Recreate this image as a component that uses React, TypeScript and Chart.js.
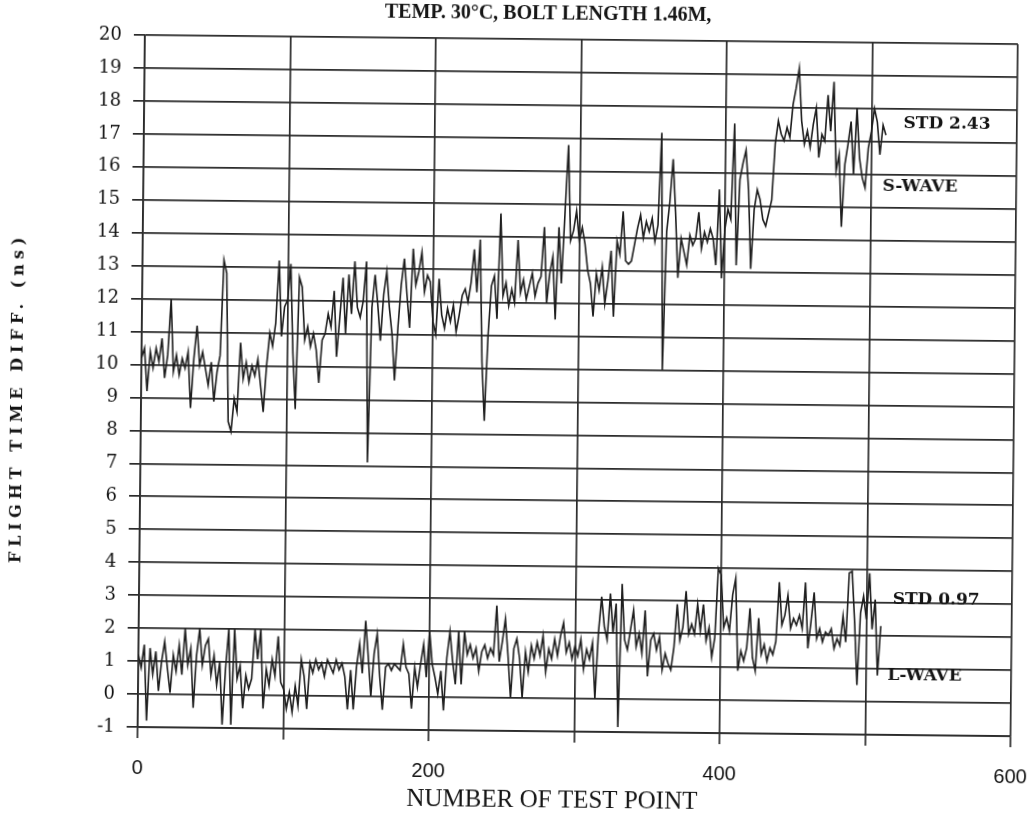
import React, { useEffect, useRef } from 'react';
import { Chart, registerables } from 'chart.js';

Chart.register(...registerables);

const TITLE = 'TEMP. 30°C, BOLT LENGTH 1.46M,';
const X_TITLE = 'NUMBER OF TEST POINT';
const Y_TITLE = 'FLIGHT TIME DIFF. (ns)';
const X_TICKS = [0, 100, 200, 300, 400, 500, 600];
const X_TICK_LABELS = [0, 200, 400, 600];
const SAMPLE_STEP = 2;

const S_WAVE = [
  10.2, 10.5, 9.2, 10.4, 9.9, 10.5, 10.1, 10.8, 9.6, 10.3,
  12.0, 9.8, 10.3, 9.7, 10.2, 9.9, 10.4, 8.7, 10.2, 11.2,
  10.0, 10.4, 9.9, 9.4, 10.1, 8.9, 9.8, 10.3, 13.2, 12.8,
  8.3, 8.0, 9.0, 8.6, 10.7, 9.6, 10.1, 9.5, 10.0, 9.7,
  10.2, 9.4, 8.6, 10.0, 11.0, 10.6, 11.3, 13.2, 10.9, 11.8,
  12.0, 13.1, 10.4, 8.7, 12.7, 12.4, 10.8, 11.2, 10.6, 11.0,
  10.5, 9.5, 10.8, 11.0, 11.6, 11.2, 12.3, 10.3, 11.5, 12.7,
  11.0, 12.8, 11.6, 13.2, 11.8, 11.5, 12.0, 13.2, 7.1, 11.8,
  12.8, 11.9, 10.8, 12.2, 12.9, 11.8, 11.0, 9.6, 11.2, 12.5,
  13.3, 12.2, 11.2, 13.6, 12.5, 12.9, 13.5, 12.3, 12.8, 12.6,
  11.4, 11.0, 12.7, 11.6, 11.2, 11.8, 11.4, 11.9, 11.1, 11.6,
  12.2, 12.4, 12.0, 12.6, 13.6, 12.3, 13.9, 10.2, 8.4, 11.0,
  12.5, 12.8, 11.5, 14.7, 12.2, 12.6, 11.9, 12.4, 12.0, 13.9,
  12.3, 12.7, 12.1, 12.5, 12.9, 12.2, 12.6, 12.8, 14.3, 12.0,
  12.9, 13.4, 11.5, 14.3, 12.6, 14.7, 16.8, 13.9, 14.2, 14.8,
  13.9, 14.3, 13.8, 13.0, 12.6, 11.6, 12.9, 12.4, 13.1, 12.0,
  12.7, 13.6, 11.6, 13.9, 13.5, 14.8, 13.3, 13.2, 13.3, 13.8,
  14.3, 14.7, 14.0, 14.5, 14.2, 14.6, 13.9, 14.4, 17.2, 10.0,
  14.2, 15.1, 16.4, 14.8, 12.8, 14.0, 13.6, 13.2, 14.1, 13.8,
  14.0, 14.8, 13.7, 14.2, 13.9, 14.3, 14.0, 13.2, 15.5, 12.8,
  14.3, 14.9, 14.6, 17.5, 13.2, 15.8, 16.3, 16.7, 15.5, 13.1,
  14.9, 15.5, 15.2, 14.6, 14.4, 14.8, 15.2, 16.9, 17.6, 17.2,
  17.0, 17.4, 17.1, 18.1, 18.6, 19.2, 17.6, 16.9, 17.3, 16.8,
  17.5, 18.0, 16.5, 17.2, 17.0, 18.4, 17.3, 18.8, 16.1, 16.6,
  14.4, 16.3, 16.9, 17.6, 16.0, 18.0, 16.5, 15.9, 15.6, 16.8,
  17.3, 18.0, 17.6, 16.6, 17.5, 17.2,
];

const L_WAVE = [
  1.2, 0.8, 1.5, -0.8, 1.4, 0.6, 1.3, 0.1, 1.0, 1.6,
  0.8, 0.05, 1.2, 0.7, 1.5, 0.6, 2.0, 0.9, 1.4, -0.4,
  1.2, 2.0, 0.9, 1.5, 1.7, 0.6, 1.2, 0.3, 1.0, -0.9,
  0.8, 2.0, -0.9, 2.0, 0.5, 0.9, -0.4, 0.6, 0.2, 0.5,
  2.0, 1.1, 2.0, -0.4, 0.8, 0.3, 1.1, 0.6, 1.8, 0.4,
  0.2, -0.4, 0.1, -0.5, 0.3, -0.3, 1.1, 0.6, -0.4, 1.0,
  0.7, 1.1, 0.8, 1.0, 0.6, 1.1, 0.9, 0.7, 1.1, 0.8,
  1.0, 0.6, -0.4, 0.8, -0.4, 0.9, 1.6, 0.7, 2.3, 1.2,
  0.0, 1.3, 1.9, 0.6, -0.4, 0.9, 1.0, 0.8, 1.0, 0.9,
  0.8, 1.6, 0.9, 0.7, -0.35, 0.9, 0.3, 1.0, 1.6, 0.6,
  2.0, 1.0, 0.6, 0.1, 0.8, -0.4, 1.2, 2.0, 1.1, 0.4,
  2.0, 0.4, 2.0, 1.3, 1.6, 1.2, 1.5, 0.8, 1.4, 1.6,
  1.2, 1.5, 1.3, 2.8, 1.1, 1.7, 2.4, 1.3, 0.0, 1.5,
  1.8, 1.2, 0.0, 1.4, 0.8, 1.6, 1.2, 1.7, 1.3, 1.9,
  0.8, 1.5, 1.2, 1.8, 1.3, 1.9, 2.3, 1.4, 1.7, 1.2,
  1.6, 1.3, 1.8, 0.9, 1.5, 1.2, 1.7, 0.0, 2.0, 3.1,
  2.2, 1.8, 3.2, 2.0, 2.9, -0.85, 3.5, 1.8, 1.5, 2.1,
  2.7, 1.6, 2.0, 1.4, 2.7, 0.7, 1.8, 2.0, 1.5, 1.9,
  0.9, 1.4, 1.1, 0.9, 1.6, 2.9, 1.8, 2.2, 3.3, 2.0,
  2.3, 2.0, 2.9, 2.1, 2.9, 1.8, 2.2, 1.3, 1.9, 4.0,
  3.8, 2.2, 2.5, 2.1, 3.2, 3.7, 0.9, 1.5, 1.2, 1.6,
  2.8, 1.3, 0.9, 2.5, 1.4, 1.7, 1.2, 1.6, 1.4, 1.8,
  3.6, 2.3, 2.6, 3.2, 2.2, 2.5, 2.3, 2.6, 2.2, 3.6,
  1.6, 2.4, 3.3, 1.9, 2.2, 1.8, 2.1, 2.0, 2.2, 1.6,
  1.9, 1.7, 2.6, 1.8, 3.9, 3.95, 2.4, 0.5, 2.7, 3.2,
  2.5, 3.9, 2.2, 3.1, 0.8, 2.3,
];

const ANNOTATIONS = [
  { text: 'STD 2.43', x: 522, y: 17.55 },
  { text: 'S-WAVE', x: 508, y: 15.65 },
  { text: 'STD 0.97', x: 518, y: 3.1 },
  { text: 'L-WAVE', x: 515, y: 0.8 },
];

const INK = '#111111';
const GRID = '#2a2a2a';

const textPlugin = {
  id: 'scanText',
  afterDraw(chart: any) {
    const ctx: CanvasRenderingContext2D = chart.ctx;
    const xs = chart.scales.x;
    const ys = chart.scales.y;
    ctx.save();
    ctx.fillStyle = '#151515';
    ctx.textBaseline = 'middle';

    ctx.textAlign = 'center';
    ctx.font = 'bold 20px "Liberation Serif"';
    ctx.fillText(TITLE, 544, 14);

    ctx.font = '25px "Liberation Serif"';
    ctx.fillText(X_TITLE, 556, 800);

    ctx.save();
    ctx.translate(18, 403);
    ctx.rotate(-Math.PI / 2);
    ctx.font = 'bold 16px "DejaVu Serif"';
    (ctx as any).letterSpacing = '5px';
    ctx.fillText(Y_TITLE, 0, 0);
    ctx.restore();

    ctx.textAlign = 'left';
    ctx.font = 'bold 17px "DejaVu Serif"';
    for (const a of ANNOTATIONS) {
      ctx.fillText(a.text, xs.getPixelForValue(a.x), ys.getPixelForValue(a.y));
    }
    ctx.restore();
  },
};

export default function App() {
  const ref = useRef<HTMLCanvasElement>(null);

  useEffect(() => {
    const canvas = ref.current;
    if (!canvas) return;
    const toPoints = (vals: number[]) => vals.map((v, i) => ({ x: i * SAMPLE_STEP, y: v }));
    const lineStyle = {
      borderColor: '#1e1e1e',
      borderWidth: 1.6,
      pointRadius: 0,
      tension: 0,
      fill: false,
    };
    const chart = new Chart(canvas, {
      type: 'line',
      data: {
        datasets: [
          { label: 'S-WAVE', data: toPoints(S_WAVE), ...lineStyle },
          { label: 'L-WAVE', data: toPoints(L_WAVE), ...lineStyle },
        ],
      },
      options: {
        responsive: false,
        animation: false,
        devicePixelRatio: 1,
        layout: { padding: { left: 0, right: 21, top: 39, bottom: 0 } },
        plugins: {
          legend: { display: false },
          title: { display: false },
          tooltip: { enabled: false },
        },
        scales: {
          x: {
            type: 'linear',
            min: 0,
            max: 600,
            afterFit: (s: any) => {
              s.height = 85;
              s.paddingLeft = 0;
              s.paddingRight = 0;
            },
            afterBuildTicks: (s: any) => { s.ticks = X_TICKS.map((v) => ({ value: v })); },
            ticks: {
              autoSkip: false,
              maxRotation: 0,
              padding: 18,
              color: INK,
              font: { family: 'Liberation Sans', size: 20 },
              callback: (v: any) => (X_TICK_LABELS.includes(Number(v)) ? String(v) : ''),
            },
            grid: { color: GRID, lineWidth: 1.7, tickLength: 11 },
            border: { display: true, color: GRID, width: 1.7 },
          },
          y: {
            type: 'linear',
            min: -1,
            max: 20,
            afterFit: (s: any) => {
              s.width = 141;
              s.paddingTop = 0;
              s.paddingBottom = 0;
            },
            ticks: {
              stepSize: 1,
              autoSkip: false,
              padding: 12,
              color: INK,
              font: { family: 'DejaVu Serif', size: 18 },
            },
            grid: { color: GRID, lineWidth: 1.7, tickLength: 11 },
            border: { display: true, color: GRID, width: 1.7 },
          },
        },
      },
      plugins: [textPlugin],
    } as any);
    return () => chart.destroy();
  }, []);

  return (
    <div style={{ position: 'fixed', left: 0, top: 0, width: 1035, height: 816, background: '#ffffff' }}>
      <canvas
        ref={ref}
        width={1035}
        height={816}
        style={{ display: 'block', transform: 'rotate(0.6deg)', transformOrigin: '50% 50%' }}
      />
    </div>
  );
}
